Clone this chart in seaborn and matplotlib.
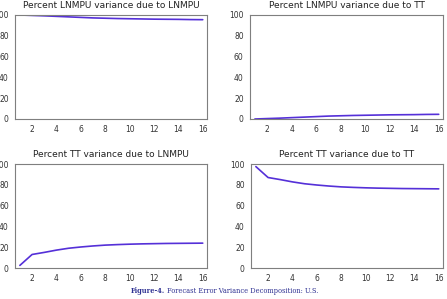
import numpy as np
import pandas as pd
import matplotlib
matplotlib.use("Agg")
import matplotlib.pyplot as plt
import seaborn as sns

# forecast horizon (periods)
periods = list(range(1, 17))

# variance decomposition shares, in percent
lnmpu_due_lnmpu = [100, 99.6, 99.2, 98.7, 98.2, 97.7, 97.2, 96.9, 96.6, 96.4, 96.2, 96.0, 95.9, 95.8, 95.6, 95.5]
lnmpu_due_tt = [0, 0.4, 0.8, 1.3, 1.8, 2.3, 2.8, 3.1, 3.4, 3.6, 3.8, 4.0, 4.1, 4.2, 4.4, 4.5]
tt_due_lnmpu = [2.5, 13.0, 15.0, 17.2, 19.0, 20.2, 21.2, 22.0, 22.5, 22.9, 23.2, 23.4, 23.6, 23.7, 23.8, 23.9]
tt_due_tt = [97.5, 87.0, 85.0, 82.8, 81.0, 79.8, 78.8, 78.0, 77.5, 77.1, 76.8, 76.6, 76.4, 76.3, 76.2, 76.1]

titles = [
    "Percent LNMPU variance due to LNMPU",
    "Percent LNMPU variance due to TT",
    "Percent TT variance due to LNMPU",
    "Percent TT variance due to TT",
]
series = [lnmpu_due_lnmpu, lnmpu_due_tt, tt_due_lnmpu, tt_due_tt]

sns.set_style("white")
plt.rcParams['font.family'] = ['DejaVu Sans']

fig = plt.figure(figsize=(4.47, 2.99), dpi=100)
W, H = 447, 299
# axes boxes in pixels: left, top, right, bottom
boxes = [(15, 15, 207, 119), (250, 15, 443, 119), (15, 164, 207, 268), (251, 164, 443, 268)]

line_color = "#5530D8"
for box, title, vals in zip(boxes, titles, series):
    l, t, r, b = box
    ax = fig.add_axes([l / W, 1 - b / H, (r - l) / W, (b - t) / H])
    df = pd.DataFrame({"period": periods, "value": vals})
    sns.lineplot(data=df, x="period", y="value", ax=ax, color=line_color, linewidth=1.2)
    ax.set_xlim(0.6, 16.35)
    ax.set_ylim(0, 100)
    ax.set_xticks(range(2, 17, 2))
    ax.set_xticks(range(1, 17), minor=True)
    ax.set_yticks(range(0, 101, 20))
    ax.set_xlabel("")
    ax.set_ylabel("")
    ax.set_title(title, fontsize=6.5, color="#222222", pad=5)
    for sp in ax.spines.values():
        sp.set_color("#7f7f7f")
        sp.set_linewidth(0.8)
    ax.tick_params(axis="both", which="both", direction="out", length=3, width=0.6,
                   color="#555555", labelsize=5.5, labelcolor="#333333", pad=1.5)

cap_y = 1 - 291 / H
fig.text(165 / W, cap_y, "Figure-4.", fontsize=4.8, family="DejaVu Serif", color="#2E3192",
         fontweight="bold", ha="right", va="center")
fig.text(167 / W, cap_y, "Forecast Error Variance Decomposition: U.S.", fontsize=4.8,
         family="DejaVu Serif", color="#2E3192", ha="left", va="center")

fig.savefig("out.png", dpi=100)
